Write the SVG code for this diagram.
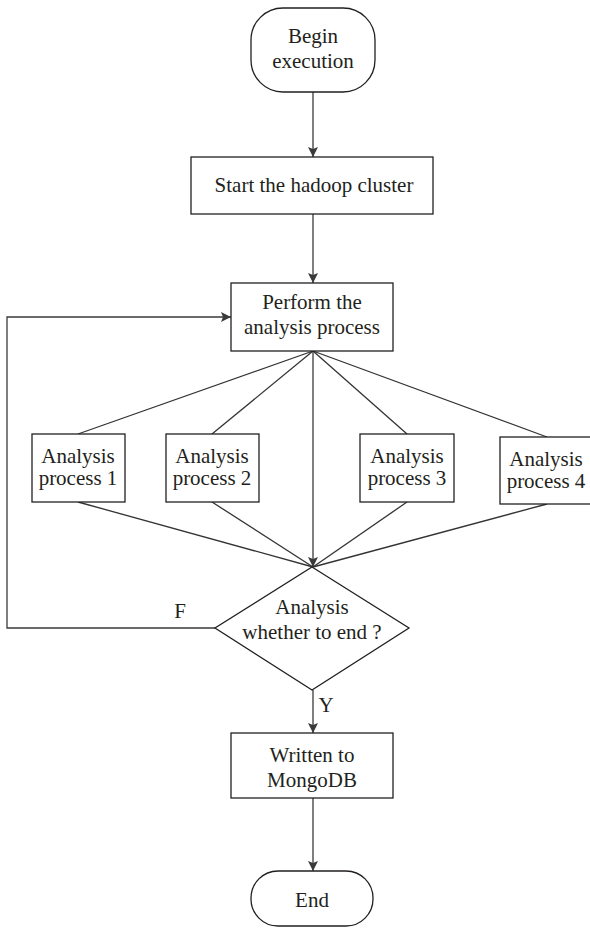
<svg xmlns="http://www.w3.org/2000/svg" width="590" height="928" viewBox="0 0 590 928">
<defs>
<marker id="ah" markerWidth="10" markerHeight="12" refX="10" refY="5" orient="auto" markerUnits="userSpaceOnUse">
<path d="M0,0 L10,5 L0,10 L2,5 Z" fill="#3a3a3a"/>
</marker>
<style>
.n{fill:#fff;stroke:#231f20;stroke-width:1.3}
.t{font-family:"Liberation Serif",serif;font-size:21px;fill:#231f20;text-anchor:middle}
.c{fill:none;stroke:#333;stroke-width:1.3}
.a{fill:none;stroke:#3a3a3a;stroke-width:1.3;marker-end:url(#ah)}
</style>
</defs>
<rect width="590" height="928" fill="#fff"/>
<g id="connectors">
<line class="a" x1="313" y1="92" x2="313" y2="157"/>
<line class="a" x1="313" y1="214" x2="313" y2="283"/>
<line class="c" x1="313" y1="351" x2="78" y2="434"/>
<line class="c" x1="313" y1="351" x2="212" y2="434"/>
<line class="c" x1="313" y1="351" x2="407" y2="434"/>
<line class="c" x1="313" y1="351" x2="547" y2="437"/>
<line class="a" x1="313" y1="351" x2="313" y2="567"/>
<line class="c" x1="78" y1="502" x2="313" y2="567"/>
<line class="c" x1="212" y1="502" x2="313" y2="567"/>
<line class="c" x1="407" y1="502" x2="313" y2="567"/>
<line class="c" x1="547" y1="504" x2="313" y2="567"/>
<polyline class="a" points="215,628 7,628 7,317 231,317"/>
<text class="t" x="180" y="618">F</text>
<line class="a" x1="313" y1="690" x2="313" y2="733"/>
<text class="t" x="326" y="712">Y</text>
<line class="a" x1="313" y1="798" x2="313" y2="871"/>
</g>
<g id="begin">
<rect class="n" x="251" y="8" width="124" height="84" rx="32" ry="32"/>
<text class="t" x="313" y="43">Begin</text>
<text class="t" x="313" y="68">execution</text>
</g>
<g id="start">
<rect class="n" x="191" y="157" width="242" height="57"/>
<text class="t" x="314" y="192">Start the hadoop cluster</text>
</g>
<g id="perform">
<rect class="n" x="231" y="283" width="162" height="68"/>
<text class="t" x="312" y="309">Perform the</text>
<text class="t" x="312" y="334">analysis process</text>
</g>
<g id="p1">
<rect class="n" x="32" y="434" width="93" height="68"/>
<text class="t" x="78" y="463">Analysis</text>
<text class="t" x="78" y="485">process 1</text>
</g>
<g id="p2">
<rect class="n" x="166" y="434" width="93" height="68"/>
<text class="t" x="212" y="463">Analysis</text>
<text class="t" x="212" y="485">process 2</text>
</g>
<g id="p3">
<rect class="n" x="360" y="434" width="94" height="68"/>
<text class="t" x="407" y="463">Analysis</text>
<text class="t" x="407" y="485">process 3</text>
</g>
<g id="p4">
<rect class="n" x="500" y="437" width="94" height="67"/>
<text class="t" x="546" y="466">Analysis</text>
<text class="t" x="546" y="488">process 4</text>
</g>
<g id="decision">
<polygon class="n" points="312,567 409,628 312,690 215,628"/>
<text class="t" x="312" y="614">Analysis</text>
<text class="t" x="312" y="639">whether to end ?</text>
</g>
<g id="mongo">
<rect class="n" x="231" y="733" width="162" height="65"/>
<text class="t" x="312" y="762">Written to</text>
<text class="t" x="312" y="787">MongoDB</text>
</g>
<g id="end">
<rect class="n" x="251" y="871" width="122" height="55" rx="27" ry="27"/>
<text class="t" x="312" y="907">End</text>
</g>
</svg>
